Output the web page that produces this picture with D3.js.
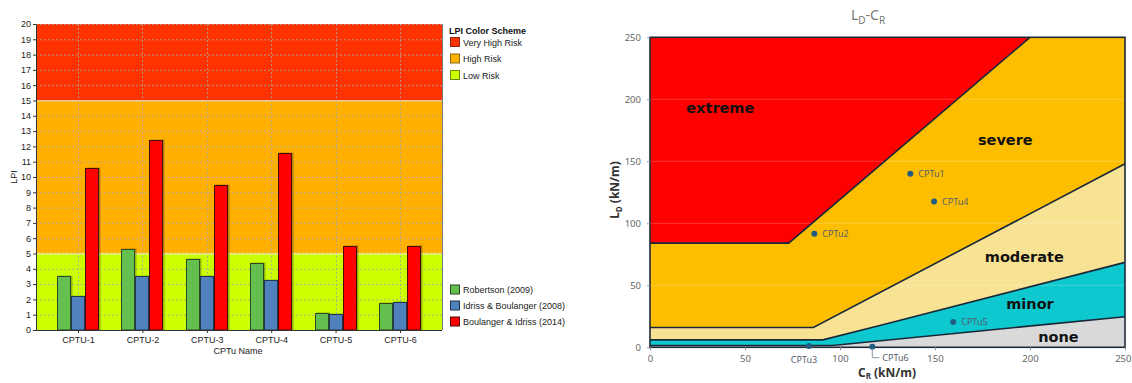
<!DOCTYPE html>
<html>
<head>
<meta charset="utf-8">
<script src="https://cdn.jsdelivr.net/npm/d3@7"></script>
<style>
  html, body { margin: 0; padding: 0; background: #fff; }
  svg { display: block; }
</style>
</head>
<body>
<svg id="chart" width="1132" height="383"></svg>
<script>
// ---------- LPI bar chart data ----------
const categories = ["CPTU-1", "CPTU-2", "CPTU-3", "CPTU-4", "CPTU-5", "CPTU-6"];
const robertson = [3.55, 5.3, 4.65, 4.35, 1.1, 1.75];
const idriss = [2.2, 3.55, 3.5, 3.25, 1.05, 1.8];
const boulanger = [10.6, 12.4, 9.5, 11.6, 5.5, 5.5];
const seriesNames = ["Robertson (2009)", "Idriss & Boulanger (2008)", "Boulanger & Idriss (2014)"];
const seriesColors = ["#63c04e", "#4f81bd", "#ff0000"];
const seriesStroke = ["#2b4a22", "#1f3550", "#4a0a00"];
const lpiTicks = d3.range(0, 21);
const riskNames = ["Very High Risk", "High Risk", "Low Risk"];
const riskLow = [15, 5, 0];
const riskHigh = [20, 15, 5];
const riskColors = ["#ff3300", "#ffb000", "#ccff00"];
const riskStroke = ["#8a2a10", "#8a6a10", "#6a8a10"];

// ---------- LD-CR chart data ----------
const crTicks = [0, 50, 100, 150, 200, 250];
const ldTicks = [0, 50, 100, 150, 200, 250];
const extremeEdge = [[0, 84], [73, 84], [200, 250]];
const severeEdge = [[0, 16], [86, 16], [250, 148]];
const moderateEdge = [[0, 6], [91, 6], [122, 18], [250, 68.5]];
const minorEdge = [[0, 1.5], [96, 1.5], [250, 24.7]];
const zoneNames = ["extreme", "severe", "moderate", "minor", "none"];
const zoneColors = ["#ff0000", "#fdbe00", "#f8e294", "#0dc8cf", "#d9d9d9"];
const zoneLabelAt = [[37, 193], [187, 167], [197, 73], [200, 35], [215, 8]];
const siteNames = ["CPTu1", "CPTu2", "CPTu3", "CPTu4", "CPTu5", "CPTu6"];
const siteCR = [137, 86.5, 83.7, 149.5, 159.6, 117];
const siteLD = [140, 91.5, 1, 117.5, 20.5, 0.5];

const svg = d3.select("#chart");

// =====================================================
// Left: LPI per sounding, grouped bars over risk bands
// =====================================================
const L = { left: 36, right: 442, top: 24, bottom: 330 };
const yL = d3.scaleLinear().domain([0, 20]).range([L.bottom, L.top]);
const xL = d3.scalePoint().domain(categories).range([L.left, L.right]).padding(0.652);
const barW = 14;
const barOffset = d3.scaleBand().domain(d3.range(3)).range([-21, 21]);

const gL = svg.append("g").attr("font-family", "Liberation Sans, Arial, sans-serif");

// risk background bands
riskNames.forEach((n, i) => {
  gL.append("rect")
    .attr("x", L.left).attr("width", L.right - L.left)
    .attr("y", yL(riskHigh[i])).attr("height", yL(riskLow[i]) - yL(riskHigh[i]))
    .attr("fill", riskColors[i]);
});

// dashed grid
gL.append("g").selectAll("line.h").data(lpiTicks.slice(1)).join("line")
  .attr("x1", L.left).attr("x2", L.right)
  .attr("y1", d => yL(d) + 0.5).attr("y2", d => yL(d) + 0.5)
  .attr("stroke", "#a8a8a8").attr("stroke-opacity", 0.8)
  .attr("stroke-dasharray", "2,2");
gL.append("g").selectAll("line.v").data(categories).join("line")
  .attr("x1", d => Math.round(xL(d)) + 0.5).attr("x2", d => Math.round(xL(d)) + 0.5)
  .attr("y1", L.top).attr("y2", L.bottom)
  .attr("stroke", "#a8a8a8").attr("stroke-opacity", 0.8)
  .attr("stroke-dasharray", "2,2");

// band edges
[15, 5].forEach(v => {
  gL.append("line")
    .attr("x1", L.left).attr("x2", L.right)
    .attr("y1", yL(v) + 0.5).attr("y2", yL(v) + 0.5)
    .attr("stroke", "#fff").attr("stroke-opacity", 0.6);
});

// bars
const series = [robertson, idriss, boulanger];
series.forEach((vals, s) => {
  const g = gL.append("g");
  g.selectAll("rect.shadow").data(vals).join("rect")
    .attr("x", (d, i) => Math.round(xL(categories[i]) + barOffset(s)) + 1.5)
    .attr("y", d => Math.round(yL(d)) - 0.5)
    .attr("width", barW)
    .attr("height", d => yL(0) - Math.round(yL(d)) + 0.5)
    .attr("fill", "#000").attr("fill-opacity", 0.28);
  g.selectAll("rect.bar").data(vals).join("rect")
    .attr("x", (d, i) => Math.round(xL(categories[i]) + barOffset(s)) + 0.5)
    .attr("y", d => Math.round(yL(d)) + 0.5)
    .attr("width", barW - 1)
    .attr("height", d => yL(0) - Math.round(yL(d)) - 0.5)
    .attr("fill", seriesColors[s])
    .attr("stroke", seriesStroke[s]).attr("stroke-width", 1);
});

// axes
const axisLeftL = d3.axisLeft(yL).tickValues(lpiTicks).tickSize(3).tickPadding(2).tickFormat(d3.format("d"));
const gyL = gL.append("g").attr("transform", `translate(${L.left},0)`).call(axisLeftL);
gyL.select(".domain").attr("stroke", "#333");
gyL.selectAll(".tick line").attr("stroke", "#333");
gyL.selectAll("text").attr("font-size", 9).attr("fill", "#222").attr("font-family", "Liberation Sans, Arial, sans-serif");

const axisBottomL = d3.axisBottom(xL).tickSize(3).tickPadding(4);
const gxL = gL.append("g").attr("transform", `translate(0,${L.bottom})`).call(axisBottomL);
gxL.select(".domain").attr("stroke", "#333").attr("d", `M${L.left},0.5H${L.right}`);
gxL.selectAll(".tick line").attr("stroke", "#333");
gxL.selectAll("text").attr("font-size", 9).attr("fill", "#222").attr("font-family", "Liberation Sans, Arial, sans-serif");

gL.append("line").attr("x1", L.right + 0.5).attr("x2", L.right + 0.5)
  .attr("y1", L.top).attr("y2", L.bottom).attr("stroke", "#777");

gL.append("text").attr("x", 238).attr("y", 354).attr("text-anchor", "middle")
  .attr("font-size", 9).attr("fill", "#222").text("CPTu Name");
gL.append("text").attr("transform", "translate(17,177) rotate(-90)")
  .attr("text-anchor", "middle").attr("font-size", 9).attr("fill", "#222").text("LPI");

// risk legend
gL.append("text").attr("x", 449).attr("y", 34).attr("font-size", 9)
  .attr("font-weight", "bold").attr("fill", "#111").text("LPI Color Scheme");
riskNames.forEach((n, i) => {
  const y = 37 + i * 16.5;
  gL.append("rect").attr("x", 450.5).attr("y", y + 0.5).attr("width", 9).attr("height", 9)
    .attr("fill", riskColors[i]).attr("stroke", riskStroke[i]);
  gL.append("text").attr("x", 463).attr("y", y + 8.5).attr("font-size", 9)
    .attr("fill", "#222").text(n);
});

// method legend
seriesNames.forEach((n, i) => {
  const y = 284.5 + i * 16;
  gL.append("rect").attr("x", 450.5).attr("y", y + 0.5).attr("width", 9).attr("height", 9)
    .attr("fill", seriesColors[i]).attr("stroke", seriesStroke[i]);
  gL.append("text").attr("x", 463).attr("y", y + 8.5).attr("font-size", 9)
    .attr("fill", "#222").text(n);
});

// =====================================================
// Right: damage zones in the LD-CR plane
// =====================================================
const R = { left: 650, right: 1125, top: 37.3, bottom: 347.3 };
const xR = d3.scaleLinear().domain([0, 250]).range([R.left, R.right]);
const yR = d3.scaleLinear().domain([0, 250]).range([R.bottom, R.top]);
const gR = svg.append("g").attr("font-family", "Noto Sans, Open Sans, sans-serif");

const line = d3.line().x(d => xR(d[0])).y(d => yR(d[1]));
const rev = a => a.slice().reverse();

const zonePolys = [
  [[0, 250], [200, 250]].concat(rev(extremeEdge)),
  extremeEdge.concat([[250, 250]], rev(severeEdge)),
  severeEdge.concat(rev(moderateEdge)),
  moderateEdge.concat(rev(minorEdge)),
  minorEdge.concat([[250, 0], [0, 0]])
];

zonePolys.forEach((p, i) => {
  gR.append("path").attr("d", line(p) + "Z").attr("fill", zoneColors[i]);
});

// faint horizontal grid
gR.append("g").selectAll("line").data(ldTicks.slice(1, -1)).join("line")
  .attr("x1", R.left).attr("x2", R.right)
  .attr("y1", d => yR(d)).attr("y2", d => yR(d))
  .attr("stroke", "#fff").attr("stroke-opacity", 0.22);

// zone boundaries
[extremeEdge, severeEdge, moderateEdge, minorEdge].forEach(e => {
  gR.append("path").attr("d", line(e)).attr("fill", "none")
    .attr("stroke", "#18283a").attr("stroke-width", 1.6);
});

// frame
gR.append("rect").attr("x", R.left).attr("y", R.top)
  .attr("width", R.right - R.left).attr("height", R.bottom - R.top)
  .attr("fill", "none").attr("stroke", "#1d2b38").attr("stroke-width", 1.6);

// zone labels
zoneNames.forEach((n, i) => {
  gR.append("text")
    .attr("x", xR(zoneLabelAt[i][0])).attr("y", yR(zoneLabelAt[i][1]))
    .attr("text-anchor", "middle").attr("dominant-baseline", "central")
    .attr("font-family", "DejaVu Sans, sans-serif").attr("font-weight", "bold")
    .attr("font-size", 14.5).attr("fill", "#111").text(n);
});

// axes
const gyR = gR.append("g").attr("transform", `translate(${R.left},0)`)
  .call(d3.axisLeft(yR).tickValues(ldTicks).tickSize(3).tickPadding(6));
gyR.select(".domain").remove();
gyR.selectAll(".tick line").attr("stroke", "#8a96a0");
gyR.selectAll("text").attr("font-size", 9.5).attr("fill", "#666")
  .attr("font-family", "Noto Sans, sans-serif");

const gxR = gR.append("g").attr("transform", `translate(0,${R.bottom})`)
  .call(d3.axisBottom(xR).tickValues(crTicks).tickSize(3).tickPadding(5));
gxR.select(".domain").remove();
gxR.selectAll(".tick line").attr("stroke", "#8a96a0");
gxR.selectAll("text").attr("font-size", 9.5).attr("fill", "#666")
  .attr("font-family", "Noto Sans, sans-serif");
// keep the last tick label inside the page edge
gxR.selectAll(".tick text").filter(d => d === 250).attr("text-anchor", "end").attr("dx", 6);

// sites
const siteColor = "#1f5c80";
siteNames.forEach((n, i) => {
  const cx = xR(siteCR[i]), cy = yR(siteLD[i]);
  gR.append("circle").attr("cx", cx).attr("cy", cy).attr("r", 3).attr("fill", siteColor);
  const t = gR.append("text").attr("font-size", 9).attr("fill", "#55606a")
    .attr("dominant-baseline", "central").text(n);
  if (n === "CPTu3") {
    t.attr("x", cx - 5).attr("y", cy + 13).attr("text-anchor", "middle");
  } else if (n === "CPTu6") {
    gR.append("path").attr("d", `M${cx},${cy + 2}V${cy + 11}H${cx + 7}`)
      .attr("fill", "none").attr("stroke", "#8a96a0").attr("stroke-width", 1);
    t.attr("x", cx + 10).attr("y", cy + 11);
  } else {
    t.attr("x", cx + 8).attr("y", cy);
  }
});

// axis titles
const yt = gR.append("text").attr("transform", "translate(619,190) rotate(-90)")
  .attr("text-anchor", "middle").attr("font-size", 12).attr("font-weight", "bold").attr("fill", "#333");
yt.append("tspan").text("L");
yt.append("tspan").attr("font-size", 8).attr("dy", 3).text("D");
yt.append("tspan").attr("dy", -3).text(" (kN/m)");

const xt = gR.append("text").attr("x", 887).attr("y", 377)
  .attr("text-anchor", "middle").attr("font-size", 12).attr("font-weight", "bold").attr("fill", "#333");
xt.append("tspan").text("C");
xt.append("tspan").attr("font-size", 8).attr("dy", 2).text("R");
xt.append("tspan").attr("dy", -2).text(" (kN/m)");

// chart title
const tt = gR.append("text").attr("x", 868).attr("y", 20)
  .attr("text-anchor", "middle").attr("font-size", 14).attr("fill", "#777");
tt.append("tspan").text("L");
tt.append("tspan").attr("font-size", 10).attr("dy", 4).text("D");
tt.append("tspan").attr("dy", -4).text("-C");
tt.append("tspan").attr("font-size", 10).attr("dy", 4).text("R");
</script>
</body>
</html>
